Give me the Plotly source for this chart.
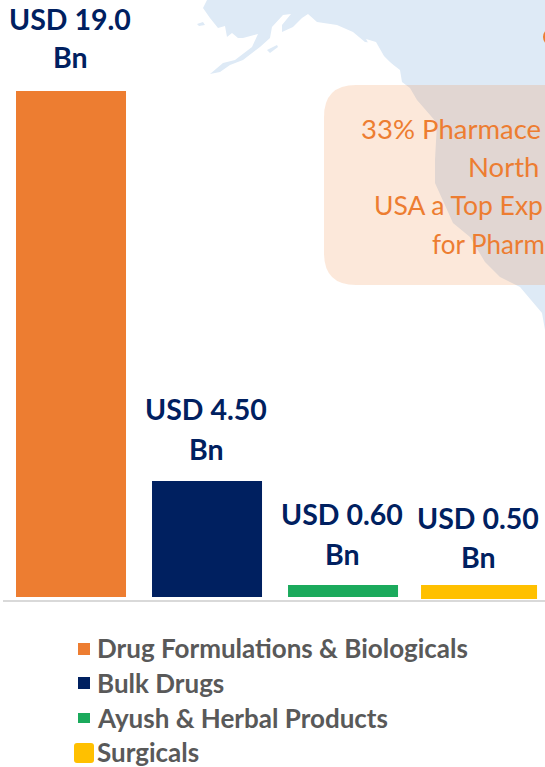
import plotly.graph_objects as go

categories = ["Drug Formulations & Biologicals", "Bulk Drugs", "Ayush & Herbal Products", "Surgicals"]
bar_heights = [19.0, 4.36, 0.45, 0.525]
bar_bases = [0, 0, 0, -0.075]
value_labels = ["USD 19.0", "USD 4.50", "USD 0.60", "USD 0.50"]
unit_label = "Bn"
colors = ["#ED7D31", "#002060", "#1BAA5C", "#FFC000"]
callout_lines = ["33% Pharmace", "North", "USA a Top Exp", "for Pharm"]

W, H = 545, 767
BASE_PX, AXIS_PX = 597, 600
PX_PER_UNIT = 506 / 19.0
FONT = "Lato, Carlito, Calibri, sans-serif"
ORANGE, NAVY, GREY = "#ED7D31", "#002060", "#595959"

def px(x): return x / W
def py(y): return 1 - y / H

def path(points, close=True):
    d = "M" + " L".join(f"{px(x):.5f},{py(y):.5f}" for x, y in points)
    return d + (" Z" if close else "")

def round_rect(x0, y0, x1, y1, r):
    return (f"M{px(x0+r)},{py(y0)} L{px(x1-r)},{py(y0)} Q{px(x1)},{py(y0)} {px(x1)},{py(y0+r)} "
            f"L{px(x1)},{py(y1-r)} Q{px(x1)},{py(y1)} {px(x1-r)},{py(y1)} L{px(x0+r)},{py(y1)} "
            f"Q{px(x0)},{py(y1)} {px(x0)},{py(y1-r)} L{px(x0)},{py(y0+r)} Q{px(x0)},{py(y0)} {px(x0+r)},{py(y0)} Z")

coast = [(207,0),(203,8),(210,18),(218,28),(225,26),(227,37),(232,33),(238,38),(243,38),(258,34),
         (252,47),(235,60),(223,63),(210,74),(220,72),(230,65),(243,60),(260,47),(270,38),(272,27),
         (283,15),(291,14),(282,25),(282,32),(293,27),(302,18),(308,14),(317,22),(337,25),(353,32),
         (365,42),(375,43),(383,57),(400,70),(402,82),(410,88),(417,100),(437,123),(435,160),
         (435,183),(453,223),(470,237),(485,262),(500,277),(520,287),(542,313),(545,330),(545,0)]
islands = [[(197,24),(203,22),(205,25),(199,26)], [(267,50),(277,45),(278,47),(270,53)]]
inlets = [[(366,39),(376,42),(384,56),(398,70),(401,82),(394,72),(386,70),(380,60),(372,50)],
          [(415,104),(425,110),(430,118),(420,113)],
          [(490,272),(505,290),(517,305),(505,295),(495,283)]]

shapes = [dict(type="path", xref="paper", yref="paper", layer="below", path=path(coast),
               fillcolor="#DEEAF6", line=dict(width=0))]
for isl in islands:
    shapes.append(dict(type="path", xref="paper", yref="paper", layer="below", path=path(isl),
                       fillcolor="#DEEAF6", line=dict(width=0)))
for inl in inlets:
    shapes.append(dict(type="path", xref="paper", yref="paper", layer="below", path=path(inl),
                       fillcolor="#FFFFFF", line=dict(width=0)))

# translucent rounded callout, running off the right-hand edge
shapes.append(dict(type="path", xref="paper", yref="paper", layer="below",
                   path=round_rect(324, 85, 600, 285, 32),
                   fillcolor="rgba(237,125,49,0.18)", line=dict(width=0)))
# small orange marker cut by the edge
shapes.append(dict(type="circle", xref="paper", yref="paper", layer="below",
                   x0=px(543), x1=px(561), y0=py(28), y1=py(46), fillcolor=ORANGE, line=dict(width=0)))

annotations = []
starts = [359, 466, 372, 430]
ys = [128, 166, 205, 244]
sizes = [27.5, 27.5, 26.5, 26]
for s, yy, t, fs in zip(starts, ys, callout_lines, sizes):
    annotations.append(dict(xref="paper", yref="paper", x=px(s), y=py(yy), text=t, showarrow=False,
                            xanchor="left", yanchor="middle",
                            font=dict(family=FONT, size=fs, color=ORANGE)))

line1_gap = [72, 72, 71, 65]
line2_gap = [34, 32, 31, 26]
for cat, h, lab, g1, g2 in zip(categories, bar_heights, value_labels, line1_gap, line2_gap):
    annotations.append(dict(x=cat, y=h, text=f"<b>{lab}</b>", showarrow=False, yanchor="middle",
                            yshift=g1, xshift=-1, font=dict(family=FONT, size=28.5, color=NAVY)))
    annotations.append(dict(x=cat, y=h, text=f"<b>{unit_label}</b>", showarrow=False, yanchor="middle",
                            yshift=g2, xshift=-1, font=dict(family=FONT, size=28.5, color=NAVY)))

# legend built by hand to keep the mixed swatch sizes
swatches = [(78, 643, 90, 655, 0), (78, 677, 90, 689, 0), (78, 713, 90, 723, 0), (74, 743, 94, 763, 3)]
text_y = [648, 683, 718, 752]
for cat, col, (a, b, c, d, rad), ty in zip(categories, colors, swatches, text_y):
    shapes.append(dict(type="path", xref="paper", yref="paper", path=round_rect(a, b, c, d, rad),
                       fillcolor=col, line=dict(width=0)))
    annotations.append(dict(xref="paper", yref="paper", x=px(95), y=py(ty), text=f"<b>{cat}</b>",
                            showarrow=False, xanchor="left", yanchor="middle",
                            font=dict(family=FONT, size=26, color=GREY)))

fig = go.Figure(go.Bar(
    x=categories, y=bar_heights, base=bar_bases,
    width=[110 / 136, 110 / 136, 110 / 136, 116 / 136],
    marker=dict(color=colors, line=dict(width=0)),
    hoverinfo="skip", showlegend=False,
))
fig.update_layout(
    width=W, height=H, margin=dict(l=0, r=0, t=0, b=0),
    paper_bgcolor="white", plot_bgcolor="rgba(0,0,0,0)",
    shapes=shapes, annotations=annotations, showlegend=False,
    xaxis=dict(domain=[px(3), 1], range=[-0.5, 3.485], type="category", categoryorder="array",
               categoryarray=categories, showticklabels=False, ticks="", showgrid=False, zeroline=False,
               showline=True, linecolor="#D9D9D9", linewidth=2, fixedrange=True),
    yaxis=dict(domain=[1 - AXIS_PX / H, 1], range=[-(AXIS_PX - BASE_PX) / PX_PER_UNIT, BASE_PX / PX_PER_UNIT],
               visible=False, fixedrange=True),
)
fig.write_html("out.html", config=dict(displayModeBar=False),
               post_script="document.body.style.margin='0';document.documentElement.style.overflow='hidden';")
